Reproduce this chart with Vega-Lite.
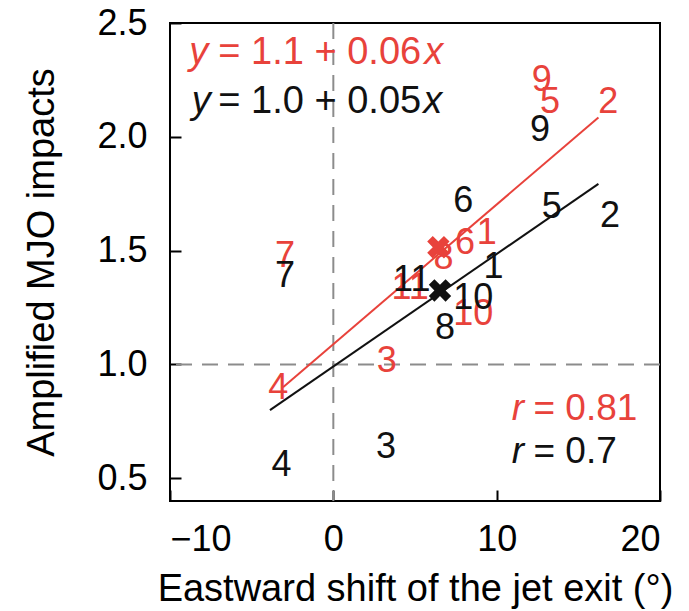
{
  "$schema": "https://vega.github.io/schema/vega-lite/v6.json",
  "width": 490,
  "height": 478,
  "autosize": {"type": "none"},
  "padding": {"left": 170, "top": 23, "right": 29, "bottom": 110},
  "background": "white",
  "config": {
    "view": {"stroke": "black", "strokeWidth": 2},
    "axis": {
      "domain": false,
      "grid": false,
      "tickSize": -11,
      "tickColor": "black",
      "tickWidth": 2,
      "labelFont": "Liberation Sans",
      "labelFontSize": 36,
      "labelColor": "black",
      "titleFont": "Liberation Sans",
      "titleFontSize": 38,
      "titleFontWeight": "normal",
      "titleColor": "black"
    },
    "text": {"font": "Liberation Sans"}
  },
  "encoding": {
    "x": {"field": "x", "type": "quantitative", "scale": {"domain": [-10, 20], "nice": false, "zero": false},
          "title": "Eastward shift of the jet exit (°)",
          "axis": {"values": [-10, 0, 10, 20], "labelPadding": 32, "labelExpr": "replace(datum.label, '-', '−')", "titleY": 99, "titleBaseline": "alphabetic"}},
    "y": {"field": "y", "type": "quantitative", "scale": {"domain": [0.4, 2.5], "nice": false, "zero": false},
          "title": "Amplified MJO impacts",
          "axis": {"values": [0.5, 1.0, 1.5, 2.0, 2.5], "format": ".1f", "labelPadding": 34, "titleX": -117, "titleY": 239, "titleBaseline": "alphabetic", "titleAngle": -90, "titleAlign": "center"}}
  },
  "datasets": {
    "labels": [
      {"n": "9", "x": 12.76, "y": 2.248, "series": "set1"},
      {"n": "5", "x": 13.27, "y": 2.153, "series": "set1"},
      {"n": "2", "x": 16.84, "y": 2.153, "series": "set1"},
      {"n": "6", "x": 8.06, "y": 1.533, "series": "set1"},
      {"n": "1", "x": 9.39, "y": 1.577, "series": "set1"},
      {"n": "8", "x": 6.74, "y": 1.467, "series": "set1"},
      {"n": "11", "x": 4.7, "y": 1.336, "series": "set1"},
      {"n": "10", "x": 8.57, "y": 1.22, "series": "set1"},
      {"n": "7", "x": -2.96, "y": 1.475, "series": "set1"},
      {"n": "3", "x": 3.27, "y": 1.015, "series": "set1"},
      {"n": "4", "x": -3.37, "y": 0.898, "series": "set1"},
      {"n": "9", "x": 12.66, "y": 2.03, "series": "set2"},
      {"n": "6", "x": 7.96, "y": 1.716, "series": "set2"},
      {"n": "5", "x": 13.37, "y": 1.69, "series": "set2"},
      {"n": "2", "x": 16.94, "y": 1.65, "series": "set2"},
      {"n": "1", "x": 9.8, "y": 1.43, "series": "set2"},
      {"n": "11", "x": 4.8, "y": 1.373, "series": "set2"},
      {"n": "10", "x": 8.57, "y": 1.29, "series": "set2"},
      {"n": "8", "x": 6.84, "y": 1.16, "series": "set2"},
      {"n": "7", "x": -2.96, "y": 1.387, "series": "set2"},
      {"n": "4", "x": -3.17, "y": 0.556, "series": "set2"},
      {"n": "3", "x": 3.23, "y": 0.636, "series": "set2"}
    ],
    "fits": [
      {"x": -3.08, "y": 0.9, "series": "set1"},
      {"x": 16.23, "y": 2.085, "series": "set1"},
      {"x": -3.88, "y": 0.799, "series": "set2"},
      {"x": 16.23, "y": 1.793, "series": "set2"}
    ],
    "means": [
      {"x": 6.43, "y": 1.515, "series": "set1"},
      {"x": 6.53, "y": 1.325, "series": "set2"}
    ],
    "notes": [
      {"t": "y", "x": -8.82, "y": 2.37, "series": "set1", "kind": "symbol"},
      {"t": "= 1.1 + 0.06", "x": -7.04, "y": 2.37, "series": "set1", "kind": "value"},
      {"t": "x", "x": 5.56, "y": 2.37, "series": "set1", "kind": "symbol"},
      {"t": "y", "x": -8.67, "y": 2.155, "series": "set2", "kind": "symbol"},
      {"t": "= 1.0 + 0.05", "x": -7.04, "y": 2.155, "series": "set2", "kind": "value"},
      {"t": "x", "x": 5.5, "y": 2.155, "series": "set2", "kind": "symbol"},
      {"t": "r", "x": 10.92, "y": 0.806, "series": "set1", "kind": "symbol2"},
      {"t": "= 0.81", "x": 12.25, "y": 0.806, "series": "set1", "kind": "value2"},
      {"t": "r", "x": 10.92, "y": 0.616, "series": "set2", "kind": "symbol2"},
      {"t": "= 0.7", "x": 12.25, "y": 0.616, "series": "set2", "kind": "value2"}
    ]
  },
  "layer": [
    {
      "data": {"values": [{"x": 0, "y": 1.0}]},
      "mark": {"type": "rule", "color": "#8c8c8c", "strokeWidth": 2, "strokeDash": [16, 10]},
      "encoding": {"y": null}
    },
    {
      "data": {"values": [{"x": 0, "y": 1.0}]},
      "mark": {"type": "rule", "color": "#8c8c8c", "strokeWidth": 2, "strokeDash": [16, 10]},
      "encoding": {"x": null}
    },
    {
      "data": {"name": "fits"},
      "mark": {"type": "line", "strokeWidth": 2},
      "encoding": {
        "color": {"field": "series", "type": "nominal", "scale": {"domain": ["set1", "set2"], "range": ["#e8423b", "#111111"]}, "legend": null},
        "detail": {"field": "series"}
      }
    },
    {
      "data": {"name": "labels"},
      "transform": [{"filter": "datum.series == 'set1'"}],
      "mark": {"type": "text", "fontSize": 36, "align": "center", "baseline": "middle"},
      "encoding": {
        "text": {"field": "n"},
        "color": {"field": "series", "type": "nominal", "scale": {"domain": ["set1", "set2"], "range": ["#e8423b", "#111111"]}, "legend": null}
      }
    },
    {
      "data": {"name": "labels"},
      "transform": [{"filter": "datum.series == 'set2'"}],
      "mark": {"type": "text", "fontSize": 36, "align": "center", "baseline": "middle"},
      "encoding": {
        "text": {"field": "n"},
        "color": {"field": "series", "type": "nominal", "scale": {"domain": ["set1", "set2"], "range": ["#e8423b", "#111111"]}, "legend": null}
      }
    },
    {
      "data": {"name": "means"},
      "mark": {"type": "point", "filled": true, "opacity": 1, "shape": "M-1,-0.5L-0.5,-1L0,-0.5L0.5,-1L1,-0.5L0.5,0L1,0.5L0.5,1L0,0.5L-0.5,1L-1,0.5L-0.5,0Z", "size": 500},
      "encoding": {
        "color": {"field": "series", "type": "nominal", "scale": {"domain": ["set1", "set2"], "range": ["#e8423b", "#111111"]}, "legend": null}
      }
    },
    {
      "data": {"name": "notes"},
      "transform": [{"filter": "datum.kind == 'symbol'"}],
      "mark": {"type": "text", "fontSize": 38, "fontStyle": "italic", "align": "left", "baseline": "middle"},
      "encoding": {
        "text": {"field": "t"},
        "color": {"field": "series", "type": "nominal", "scale": {"domain": ["set1", "set2"], "range": ["#e8423b", "#111111"]}, "legend": null}
      }
    },
    {
      "data": {"name": "notes"},
      "transform": [{"filter": "datum.kind == 'value'"}],
      "mark": {"type": "text", "fontSize": 38, "align": "left", "baseline": "middle"},
      "encoding": {
        "text": {"field": "t"},
        "color": {"field": "series", "type": "nominal", "scale": {"domain": ["set1", "set2"], "range": ["#e8423b", "#111111"]}, "legend": null}
      }
    },
    {
      "data": {"name": "notes"},
      "transform": [{"filter": "datum.kind == 'symbol2'"}],
      "mark": {"type": "text", "fontSize": 37, "fontStyle": "italic", "align": "left", "baseline": "middle"},
      "encoding": {
        "text": {"field": "t"},
        "color": {"field": "series", "type": "nominal", "scale": {"domain": ["set1", "set2"], "range": ["#e8423b", "#111111"]}, "legend": null}
      }
    },
    {
      "data": {"name": "notes"},
      "transform": [{"filter": "datum.kind == 'value2'"}],
      "mark": {"type": "text", "fontSize": 37, "align": "left", "baseline": "middle"},
      "encoding": {
        "text": {"field": "t"},
        "color": {"field": "series", "type": "nominal", "scale": {"domain": ["set1", "set2"], "range": ["#e8423b", "#111111"]}, "legend": null}
      }
    }
  ]
}
